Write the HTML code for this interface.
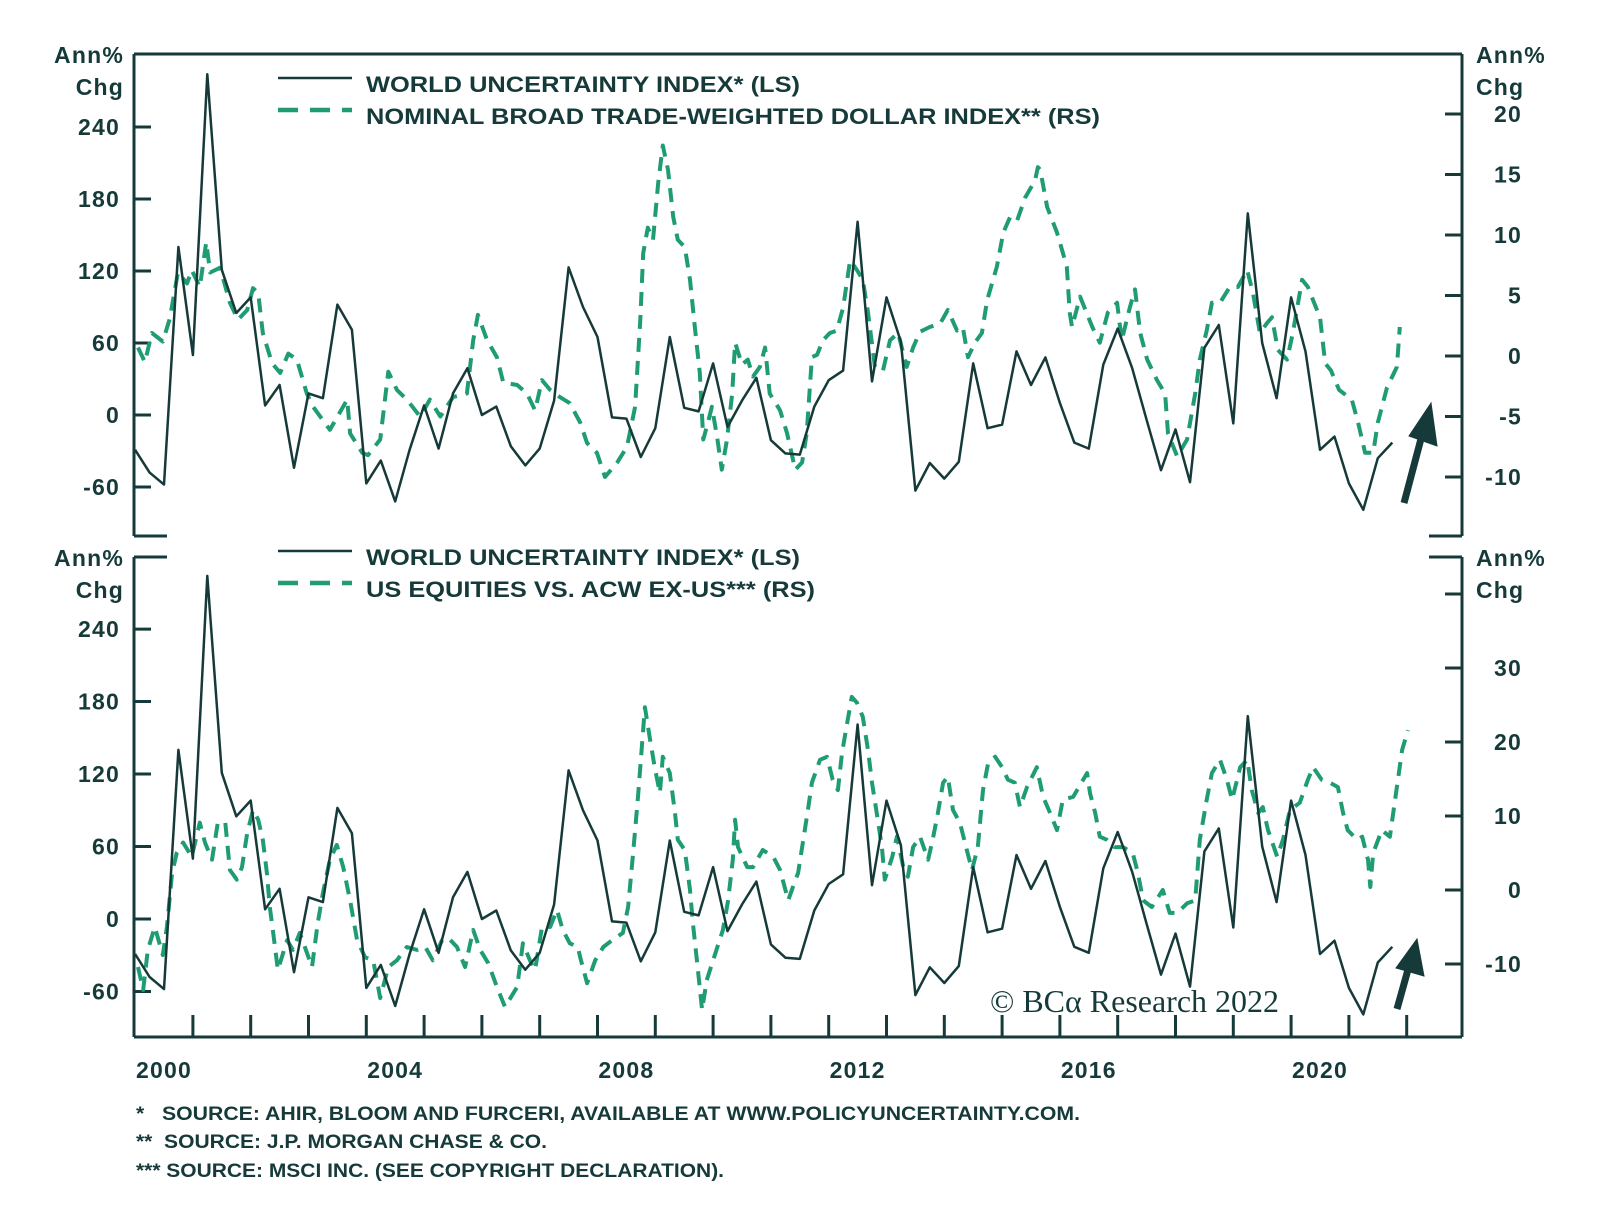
<!DOCTYPE html>
<html><head><meta charset="utf-8">
<style>
html,body{margin:0;padding:0;background:#fff;}
svg{display:block;}
text{font-family:"Liberation Sans",Arial,sans-serif;fill:#163a3a;}
.b{font-weight:bold;}
.lab{letter-spacing:1.2px;}
</style></head>
<body>
<svg id="chart" width="1600" height="1218" viewBox="0 0 1600 1218" xmlns="http://www.w3.org/2000/svg">
<g id="frame" stroke="#163a3a" stroke-width="3" fill="none"></g>
<g id="labels"></g>
<g id="series"></g>
<g>
<line x1="278" y1="78" x2="352" y2="78" stroke="#163a3a" stroke-width="2.5"/>
<line x1="278" y1="110" x2="352" y2="110" stroke="#1f9c74" stroke-width="4.5" stroke-dasharray="20,12"/>
<text x="366" y="92" class="b" font-size="22" textLength="434" lengthAdjust="spacingAndGlyphs">WORLD UNCERTAINTY INDEX* (LS)</text>
<text x="366" y="124" class="b" font-size="22" textLength="734" lengthAdjust="spacingAndGlyphs">NOMINAL BROAD TRADE-WEIGHTED DOLLAR INDEX** (RS)</text>
</g>
<g>
<line x1="278" y1="551" x2="352" y2="551" stroke="#163a3a" stroke-width="2.5"/>
<line x1="278" y1="583" x2="352" y2="583" stroke="#1f9c74" stroke-width="4.5" stroke-dasharray="20,12"/>
<text x="366" y="565" class="b" font-size="22" textLength="434" lengthAdjust="spacingAndGlyphs">WORLD UNCERTAINTY INDEX* (LS)</text>
<text x="366" y="597" class="b" font-size="22" textLength="449" lengthAdjust="spacingAndGlyphs">US EQUITIES VS. ACW EX-US*** (RS)</text>
</g>
<g fill="#163a3a" stroke="#163a3a">
<line x1="1404" y1="503" x2="1422" y2="435" stroke-width="7"/>
<polygon points="1431,403 1437,446 1409,436" stroke-width="1"/>
</g>
<g fill="#163a3a" stroke="#163a3a">
<line x1="1397" y1="1009" x2="1409" y2="966" stroke-width="7"/>
<polygon points="1417,939 1424,976 1396,968" stroke-width="1"/>
</g>
<text x="990" y="1012" font-size="32" style="font-family:'Liberation Serif',serif">© BCα Research 2022</text>
<g font-size="19" xml:space="preserve">
<text x="136" y="1120" class="b" textLength="944" lengthAdjust="spacingAndGlyphs" style="white-space:pre">*   SOURCE: AHIR, BLOOM AND FURCERI, AVAILABLE AT WWW.POLICYUNCERTAINTY.COM.</text>
<text x="136" y="1148" class="b" textLength="411" lengthAdjust="spacingAndGlyphs" style="white-space:pre">**  SOURCE: J.P. MORGAN CHASE &amp; CO.</text>
<text x="136" y="1177" class="b" textLength="588" lengthAdjust="spacingAndGlyphs" style="white-space:pre">*** SOURCE: MSCI INC. (SEE COPYRIGHT DECLARATION).</text>
</g>
</svg>
<script>
const worldStart = 1999.5;
const worldValues = [-29,-48,-58,140,50,284,121,85,98,8,25,-44,18,14,92,71,-57,-38,-72,-29,8,-28,18,39,0,7,-26,-42,-28,12,123,90,65,-2,-3,-35,-11,65,6,3,43,-10,12,31,-21,-32,-33,7,29,37,161,28,98,61,-63,-40,-53,-39,43,-11,-8,53,25,48,10,-23,-28,42,72,39,-4,-46,-12,-56,56,75,-7,168,60,14,98,53,-29,-18,-57,-79,-36,-23];
const dollarDates = [1999.55,1999.67,1999.79,1999.98,2000.10,2000.24,2000.40,2000.48,2000.62,2000.73,2000.80,2000.97,2001.14,2001.28,2001.44,2001.54,2001.63,2001.71,2001.87,2002.01,2002.15,2002.30,2002.47,2002.58,2002.87,2003.17,2003.22,2003.43,2003.53,2003.74,2003.88,2004.03,2004.20,2004.43,2004.60,2004.78,2005.00,2005.24,2005.35,2005.43,2005.59,2005.76,2005.87,2006.11,2006.28,2006.42,2006.54,2006.68,2006.85,2007.02,2007.20,2007.32,2007.49,2007.63,2007.84,2008.01,2008.15,2008.24,2008.29,2008.37,2008.46,2008.55,2008.63,2008.72,2008.81,2008.89,2009.01,2009.10,2009.19,2009.27,2009.33,2009.41,2009.48,2009.57,2009.65,2009.74,2009.83,2009.88,2010.00,2010.10,2010.19,2010.31,2010.40,2010.48,2010.66,2010.78,2010.92,2011.04,2011.12,2011.21,2011.30,2011.40,2011.52,2011.64,2011.75,2011.87,2011.99,2012.09,2012.18,2012.30,2012.44,2012.56,2012.70,2012.85,2012.96,2013.08,2013.25,2013.43,2013.56,2013.72,2013.82,2013.91,2014.03,2014.15,2014.24,2014.41,2014.52,2014.64,2014.76,2014.90,2015.07,2015.12,2015.16,2015.28,2015.45,2015.62,2015.67,2015.71,2015.85,2016.06,2016.19,2016.33,2016.49,2016.57,2016.71,2016.80,2016.89,2017.01,2017.18,2017.32,2017.37,2017.53,2017.70,2017.84,2017.92,2018.04,2018.13,2018.27,2018.44,2018.58,2018.74,2018.84,2018.96,2019.08,2019.17,2019.27,2019.43,2019.53,2019.69,2019.79,2019.88,2020.00,2020.09,2020.19,2020.33,2020.55,2020.66,2020.78,2020.92,2021.00,2021.16,2021.33,2021.38];
const dollarValues = [0.7,-0.5,1.9,1.2,3.1,6.9,6.0,7.1,5.7,9.4,6.9,7.3,4.4,3.0,3.8,5.6,5.2,1.9,-0.6,-1.4,0.2,-0.3,-3.1,-4.2,-6.1,-3.6,-6.4,-8.0,-8.2,-6.9,-1.3,-2.8,-3.6,-5.0,-3.6,-5.0,-3.4,-3.1,1.3,3.4,1.3,-0.1,-2.2,-2.4,-3.1,-4.5,-2.0,-2.8,-3.4,-3.9,-5.5,-7.2,-8.0,-10.0,-8.8,-7.5,-4.2,3.0,8.5,10.6,9.6,14.3,17.4,15.4,11.5,9.6,9.0,6.3,2.1,-1.4,-6.9,-5.5,-4.2,-6.7,-9.4,-6.9,-3.1,1.1,-0.7,-0.3,-1.7,-0.9,0.7,-3.1,-4.5,-6.4,-9.4,-8.8,-6.4,-0.1,0.1,1.3,1.9,2.1,4.0,7.9,7.1,6.3,3.6,-0.9,-1.2,1.3,1.9,-0.9,0.7,2.0,2.4,2.7,3.8,2.1,2.4,-0.1,1.1,1.9,4.6,7.4,10.2,11.5,11.2,13.1,14.5,15.6,15.4,12.3,10.2,7.4,3.6,2.4,4.9,2.4,1.1,3.6,4.4,1.3,4.0,5.5,1.9,-0.3,-2.0,-3.1,-6.4,-8.3,-6.9,-3.1,-0.3,2.1,4.4,4.4,5.7,5.7,7.1,5.2,1.9,2.7,3.2,0.5,-0.3,1.9,6.3,5.7,4.6,3.2,-0.6,-1.2,-2.8,-3.6,-5.5,-8.0,-8.0,-5.5,-2.6,-0.9,2.4];
const equityDates = [1999.55,1999.64,1999.72,1999.84,1999.98,2000.05,2000.14,2000.22,2000.33,2000.48,2000.62,2000.71,2000.83,2000.93,2001.06,2001.14,2001.26,2001.35,2001.44,2001.54,2001.63,2001.71,2001.78,2001.83,2001.89,2001.97,2002.13,2002.23,2002.35,2002.56,2002.66,2002.75,2002.87,2002.99,2003.10,2003.22,2003.34,2003.48,2003.62,2003.74,2003.88,2004.03,2004.20,2004.38,2004.52,2004.65,2004.81,2004.91,2005.07,2005.21,2005.35,2005.47,2005.61,2005.76,2005.90,2006.11,2006.21,2006.33,2006.42,2006.54,2006.68,2006.80,2006.90,2007.02,2007.16,2007.20,2007.32,2007.46,2007.60,2007.75,2007.94,2008.03,2008.11,2008.20,2008.32,2008.41,2008.49,2008.58,2008.63,2008.75,2008.84,2008.89,2009.01,2009.10,2009.15,2009.22,2009.31,2009.39,2009.50,2009.67,2009.76,2009.84,2009.88,2009.93,2010.09,2010.19,2010.36,2010.54,2010.66,2010.80,2010.88,2010.97,2011.06,2011.14,2011.21,2011.35,2011.47,2011.57,2011.66,2011.73,2011.82,2011.90,2011.99,2012.09,2012.18,2012.25,2012.34,2012.42,2012.47,2012.60,2012.68,2012.79,2012.87,2012.96,2013.08,2013.22,2013.30,2013.39,2013.48,2013.56,2013.65,2013.77,2013.89,2013.98,2014.08,2014.17,2014.26,2014.38,2014.50,2014.60,2014.72,2014.81,2014.93,2015.10,2015.21,2015.33,2015.45,2015.55,2015.73,2015.97,2016.02,2016.11,2016.19,2016.31,2016.45,2016.59,2016.76,2016.85,2016.94,2017.09,2017.28,2017.40,2017.53,2017.70,2017.84,2017.92,2018.04,2018.13,2018.27,2018.39,2018.48,2018.62,2018.74,2018.82,2018.93,2019.01,2019.10,2019.26,2019.36,2019.48,2019.65,2019.79,2019.88,2020.03,2020.17,2020.31,2020.40,2020.48,2020.64,2020.73,2020.83,2020.87,2020.92,2021.07,2021.21,2021.30,2021.42,2021.52];
const equityValues = [-10.4,-13.5,-8.1,-5.0,-8.8,-5.0,2.3,5.0,6.4,4.5,9.1,6.4,4.1,9.1,9.1,2.7,1.4,3.1,7.7,10.8,9.5,6.8,2.3,-2.3,-5.8,-10.8,-6.8,-8.1,-5.8,-10.4,-4.5,-0.4,4.1,6.1,3.1,-1.4,-6.8,-9.1,-9.5,-14.6,-10.4,-9.5,-7.7,-8.1,-7.7,-9.5,-6.8,-6.4,-7.7,-10.4,-5.4,-8.1,-9.9,-13.1,-15.8,-13.1,-7.2,-9.5,-10.8,-5.0,-5.0,-2.7,-5.4,-7.2,-7.7,-9.1,-12.6,-9.5,-7.7,-6.8,-5.8,-2.3,4.5,12.6,24.7,20.3,16.6,13.1,18.0,15.8,10.4,6.8,5.4,0.0,-4.5,-9.5,-16.2,-12.2,-9.5,-5.4,-1.4,4.1,9.5,5.8,3.1,3.1,5.4,4.5,2.7,-1.4,0.4,2.3,6.8,10.8,14.5,17.6,18.0,14.9,13.5,18.5,22.6,26.1,25.3,23.4,18.9,14.5,9.9,5.8,1.4,4.5,7.2,3.1,1.8,5.8,7.2,4.1,6.8,10.4,14.5,15.3,10.8,9.1,5.4,2.7,5.8,13.5,17.2,18.0,16.6,14.9,14.5,11.2,13.9,16.6,12.6,10.4,8.1,12.2,12.6,15.8,13.1,10.4,7.2,6.8,5.8,5.8,5.0,2.3,-1.4,-2.3,0.0,-3.1,-3.1,-1.8,-1.4,6.8,12.2,15.8,17.6,14.9,12.2,16.6,17.6,13.5,10.4,11.2,8.1,4.5,6.8,10.8,11.8,14.9,16.6,14.9,14.5,13.9,10.4,8.1,6.8,7.2,4.1,0.4,5.0,8.1,7.2,12.2,18.9,21.6];
const leftTicks = [240,180,120,60,0,-60];
const topRightTicks = [20,15,10,5,0,-5,-10];
const bottomRightTicks = [40,30,20,10,0,-10];
const yearLabels = [2000,2004,2008,2012,2016,2020];

const NS = "http://www.w3.org/2000/svg";
const X0 = 134, X1 = 1462;
const xOf = y => 164 + 57.8 * (y - 2000);
const topL = v => 415 - 1.2 * v;
const topR = v => 356 - 12.1 * v;
const botL = v => 919 - 1.208 * v;
const botR = v => 890 - 7.4 * v;

function mk(tag, attrs, parent) {
  const e = document.createElementNS(NS, tag);
  for (const k in attrs) e.setAttribute(k, attrs[k]);
  parent.appendChild(e);
  return e;
}
const frame = document.getElementById('frame');
const labels = document.getElementById('labels');
const series = document.getElementById('series');

function line(x1, y1, x2, y2, name) {
  const l = mk('line', {x1, y1, x2, y2}, frame);
  
  
}
line(X0, 54, X1, 54, 'top-panel-top-border');
line(X0, 54, X0, 536, 'top-left-axis');
line(X1, 54, X1, 536, 'top-right-axis');
line(X0, 536, X0 + 33, 536, 'top-bottom-stub-left');
line(X1 - 33, 536, X1, 536, 'top-bottom-stub-right');
line(X0, 557, X0 + 33, 557, 'bottom-top-stub-left');
line(X1 - 33, 557, X1, 557, 'bottom-top-stub-right');
line(X0, 557, X0, 1037, 'bottom-left-axis');
line(X1, 557, X1, 1037, 'bottom-right-axis');
line(X0, 1037, X1, 1037, 'x-axis');

function txt(x, y, s, anchor, size, name) {
  const t = mk('text', {x, y, 'text-anchor': anchor, 'font-size': size, 'class': 'b lab'}, labels);
  t.textContent = s;
  
  
}
const FS = 23;
leftTicks.forEach(v => {
  line(X0, topL(v), X0 + 17, topL(v), 'top-left-tick');
  txt(120, topL(v) + 8, String(v), 'end', FS, 'top-left-tick-label');
  line(X0, botL(v), X0 + 17, botL(v), 'bottom-left-tick');
  txt(120, botL(v) + 8, String(v), 'end', FS, 'bottom-left-tick-label');
});
topRightTicks.forEach(v => {
  line(X1 - 17, topR(v), X1, topR(v), 'top-right-tick');
  txt(1522, topR(v) + 8, String(v), 'end', FS, 'top-right-tick-label');
});
bottomRightTicks.forEach(v => {
  line(X1 - 17, botR(v), X1, botR(v), 'bottom-right-tick');
  if (v !== 40) txt(1522, botR(v) + 8, String(v), 'end', FS, 'bottom-right-tick-label');
});
for (let y = 2000; y <= 2021; y++) line(xOf(y + 0.5), 1037, xOf(y + 0.5), 1015, 'x-tick');
yearLabels.forEach(y => txt(xOf(y), 1078, String(y), 'middle', FS, 'x-tick-label'));
txt(124, 63, 'Ann%', 'end', FS, 'top-left-unit');
txt(124, 95, 'Chg', 'end', FS, 'top-left-unit-2');
txt(1476, 63, 'Ann%', 'start', FS, 'top-right-unit');
txt(1476, 95, 'Chg', 'start', FS, 'top-right-unit-2');
txt(124, 566, 'Ann%', 'end', FS, 'bottom-left-unit');
txt(124, 598, 'Chg', 'end', FS, 'bottom-left-unit-2');
txt(1476, 566, 'Ann%', 'start', FS, 'bottom-right-unit');
txt(1476, 598, 'Chg', 'start', FS, 'bottom-right-unit-2');

function path(dates, vals, yf, dashed) {
  const d = vals.map((v, i) => (i ? 'L' : 'M') + xOf(dates[i]).toFixed(1) + ',' + yf(v).toFixed(1)).join('');
  const attrs = {d, fill: 'none', 'stroke-linejoin': 'round'};
  if (dashed) { attrs.stroke = '#1f9c74'; attrs['stroke-width'] = 4; attrs['stroke-dasharray'] = '14,9'; }
  else { attrs.stroke = '#163a3a'; attrs['stroke-width'] = 2.5; }
  return mk('path', attrs, series);
}
const worldDates = worldValues.map((_, i) => worldStart + 0.25 * i);
let p;
p = path(dollarDates, dollarValues, topR, true);


p = path(worldDates, worldValues, topL, false);


p = path(equityDates, equityValues, botR, true);


p = path(worldDates, worldValues, botL, false);


</script>
</body></html>
